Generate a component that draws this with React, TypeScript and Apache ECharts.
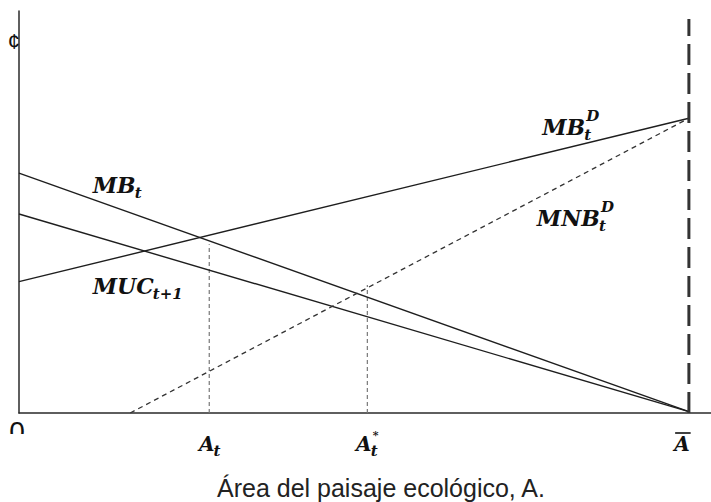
import React, { useEffect, useRef } from "react";
import * as echarts from "echarts";

// Data (arbitrary units: A̅ = 100)
const xMax = 103.3;
const yMax = 60;
const mbT: number[][] = [[0, 35.8], [100, 0.2]];
const mucT1: number[][] = [[0, 29.7], [100, 0.2]];
const mbD: number[][] = [[0, 19.6], [100, 44.0]];
const mnbD: number[][] = [[16.6, 0], [100, 44.0]];
const aBarLine: number[][] = [[100, 0], [100, 58.8]];
const atLine: number[][] = [[28.4, 0], [28.4, 25.2]];
const aStarLine: number[][] = [[52.0, 0], [52.0, 19.1]];

// Tick labels on the x axis
const tickMain = ["A", "A", "A"];
const tickSub = ["t", "t", ""];
const tickSup = ["", "*", ""];
const tickX = [28.4, 52.0, 100];
const tickShift = [1, 0, -7];
const tickBar = [false, false, true];

// Curve labels: main, sub, sup, x, y (data units, left / middle of caps)
const curveMain = ["MB", "MUC", "MB", "MNB"];
const curveSub = ["t", "t+1", "t", "t"];
const curveSup = ["", "", "D", "D"];
const curveX = [11.0, 11.0, 78.1, 77.3];
const curveY = [34.0, 19.0, 42.7, 29.1];

const xTitle = "Área del paisaje ecológico, A.";
const originLabel = "0";
const yLabel = "¢";

const SERIF = "'DejaVu Serif', 'Liberation Serif', serif";
const SANS = "'Liberation Sans', Arial, sans-serif";

function measure(text: string, size: number): number {
  const c = document.createElement("canvas");
  const ctx = c.getContext("2d");
  if (!ctx) return text.length * size * 0.6;
  ctx.font = `italic bold ${size}px ${SERIF}`;
  return ctx.measureText(text).width;
}

export default function App() {
  const ref = useRef<HTMLDivElement>(null);
  useEffect(() => {
    if (!ref.current) return;
    const chart = echarts.init(ref.current, undefined, { renderer: "svg" });
    const solid = { color: "#1e1e1e", width: 1.4 };
    chart.setOption({
      animation: false,
      grid: { left: 19, right: 0, top: 11, bottom: 89 },
      xAxis: {
        type: "value",
        min: 0,
        max: xMax,
        axisLine: { show: true, onZero: false, lineStyle: { color: "#2a2a2a", width: 1.5 } },
        axisTick: { show: false },
        axisLabel: { show: false },
        splitLine: { show: false },
      },
      yAxis: {
        type: "value",
        min: 0,
        max: yMax,
        axisLine: { show: true, lineStyle: { color: "#2a2a2a", width: 1.5 } },
        axisTick: { show: false },
        axisLabel: { show: false },
        splitLine: { show: false },
      },
      series: [
        { type: "line", data: mbT, symbol: "none", lineStyle: solid, z: 3 },
        { type: "line", data: mucT1, symbol: "none", lineStyle: solid, z: 3 },
        { type: "line", data: mbD, symbol: "none", lineStyle: solid, z: 3 },
        {
          type: "line", data: mnbD, symbol: "none", z: 3,
          lineStyle: { color: "#333", width: 1.3, type: [5, 4] },
        },
        {
          type: "line", data: atLine, symbol: "none", z: 2,
          lineStyle: { color: "#777", width: 1.2, type: [4, 3] },
        },
        {
          type: "line", data: aStarLine, symbol: "none", z: 2,
          lineStyle: { color: "#777", width: 1.2, type: [4, 3] },
        },
        {
          type: "line", data: aBarLine, symbol: "none", z: 4,
          lineStyle: { color: "#333", width: 3, type: [21, 8] },
        },
      ],
    });

    const els: any[] = [];
    const txt = (text: string, x: number, y: number, size: number) => ({
      type: "text", x, y, z: 10,
      style: {
        text, fill: "#111", font: `italic bold ${size}px ${SERIF}`,
        align: "left", verticalAlign: "middle",
      },
    });
    const addLabel = (main: string, sub: string, sup: string, px: number, py: number, size: number, subSize: number, supSize: number, supRaise: number, align: "left" | "center") => {
      const w = measure(main, size);
      const subW = Math.max(sub ? measure(sub, subSize) : 0, sup ? measure(sup, supSize) : 0);
      const left = align === "left" ? px : px - (w + subW) / 2;
      els.push(txt(main, left, py, size));
      if (sub) els.push(txt(sub, left + w - 1, py + size * 0.36, subSize));
      if (sup) els.push(txt(sup, left + w + 1, py - size * supRaise, supSize));
      return { left, w };
    };

    for (let i = 0; i < curveMain.length; i++) {
      const p = chart.convertToPixel({ gridIndex: 0 }, [curveX[i], curveY[i]]) as number[];
      addLabel(curveMain[i], curveSub[i], curveSup[i], p[0], p[1], 22, 15, 15, 0.48, "left");
    }
    for (let i = 0; i < tickMain.length; i++) {
      const p = chart.convertToPixel({ gridIndex: 0 }, [tickX[i], 0]) as number[];
      const r = addLabel(tickMain[i], tickSub[i], tickSup[i], p[0] + tickShift[i], p[1] + 31, 20, 15, 11, 0.44, "center");
      if (tickBar[i]) {
        els.push({
          type: "line", z: 10,
          shape: { x1: r.left + 1, y1: p[1] + 20, x2: r.left + r.w + 1, y2: p[1] + 20 },
          style: { stroke: "#111", lineWidth: 1.6 },
        });
      }
    }
    const o = chart.convertToPixel({ gridIndex: 0 }, [0, 0]) as number[];
    els.push({
      type: "text", x: o[0] - 2, y: o[1] + 18, z: 10,
      style: { text: originLabel, fill: "#111", font: `28px ${SANS}`, align: "center", verticalAlign: "middle" },
    });
    els.push({
      type: "rect", z: 11,
      shape: { x: o[0] - 18, y: o[1] + 21, width: 36, height: 18 },
      style: { fill: "#fff" },
    });
    const top = chart.convertToPixel({ gridIndex: 0 }, [0, 55.4]) as number[];
    els.push({
      type: "text", x: top[0] + 1, y: top[1], z: 1,
      style: { text: yLabel, fill: "#111", font: `22px ${SANS}`, align: "right", verticalAlign: "middle" },
    });
    els.push({
      type: "text", x: 381, y: 488, z: 10,
      style: { text: xTitle, fill: "#222", font: `25px ${SANS}`, align: "center", verticalAlign: "middle" },
    });
    chart.setOption({ graphic: { elements: els } });

    return () => chart.dispose();
  }, []);
  return <div ref={ref} style={{ width: 711, height: 502, position: "absolute", left: 0, top: 0 }} />;
}
